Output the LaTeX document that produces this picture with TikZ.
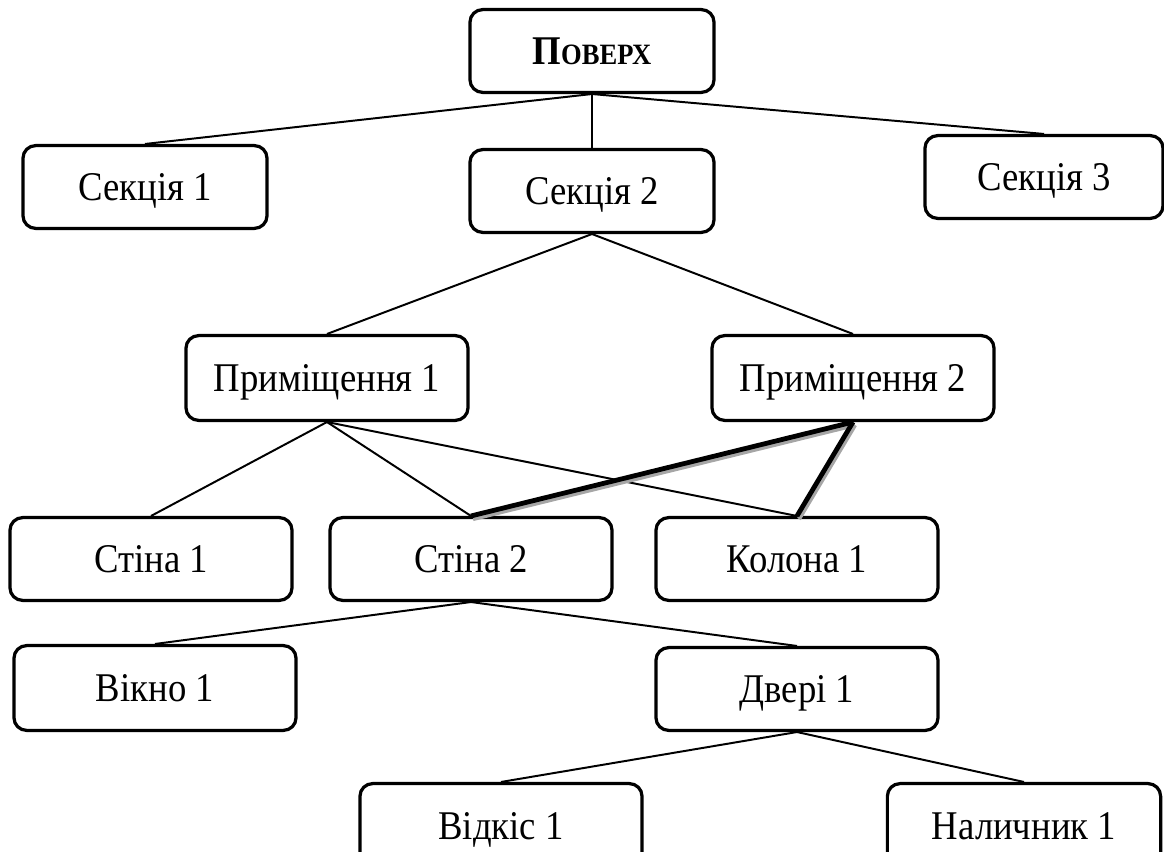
\documentclass[tikz,border=0pt]{standalone}
\usepackage{fontspec}
\setmainfont[FakeStretch=0.9]{Liberation Serif}
\usetikzlibrary{positioning}

\begin{document}
\begin{tikzpicture}[x=0.025cm, y=-0.025cm,
    box/.style={draw, line width=2.3pt, rounded corners=9pt, fill=white,
        minimum width=7.05cm, minimum height=2.07cm, inner sep=0pt,
        text height=19pt, text depth=0pt,
        font=\fontsize{29}{33}\selectfont},
    link/.style={line width=1.4pt},
    boldlink/.style={line width=3.4pt},
    shadelink/.style={line width=3pt, gray!70}]
    \useasboundingbox (0,0) rectangle (1164,852);
    \clip (0,0) rectangle (1164,852);

    % Top level
    \node[box, minimum width=6.1cm] (pover) at (592,51)
        {\bfseries П{\fontsize{21}{25}\selectfont ОВЕРХ}};

    % Sections
    \node[box, minimum width=6.1cm] (sec1) at (145,187) {Секція 1};
    \node[box, minimum width=6.1cm] (sec2) at (592,191) {Секція 2};
    \node[box, minimum width=5.95cm] (sec3) at (1044,177) {Секція 3};

    % Rooms
    \node[box, minimum height=2.12cm] (prym1) at (327,378) {Приміщення 1};
    \node[box, minimum height=2.12cm] (prym2) at (853,378) {Приміщення 2};

    % Walls and column
    \node[box] (stina1) at (151,559) {Стіна 1};
    \node[box] (stina2) at (471,559) {Стіна 2};
    \node[box] (kolona) at (797,559) {Колона 1};

    % Openings
    \node[box, minimum height=2.12cm] (vikno) at (155,688) {Вікно 1};
    \node[box] (dveri) at (797,689) {Двері 1};

    % Door parts
    \node[box, minimum height=2.12cm] (vidkis) at (501,826) {Відкіс 1};
    \node[box, minimum width=6.83cm, minimum height=2.12cm] (nalych) at (1024,826) {Наличник 1};

    % Plain links
    \draw[link] (pover.south) -- (sec1.north);
    \draw[link] (pover.south) -- (sec2.north);
    \draw[link] (pover.south) -- (sec3.north);
    \draw[link] (sec2.south) -- (prym1.north);
    \draw[link] (sec2.south) -- (prym2.north);
    \draw[link] (prym1.south) -- (stina1.north);
    \draw[link] (prym1.south) -- (stina2.north);
    \draw[link] (prym1.south) -- (kolona.north);
    \draw[link] (stina2.south) -- (vikno.north);
    \draw[link] (stina2.south) -- (dveri.north);
    \draw[link] (dveri.south) -- (vidkis.north);
    \draw[link] (dveri.south) -- (nalych.north);

    % Bold links with shadow
    \draw[shadelink] ([shift={(2,3)}]prym2.south) -- ([shift={(2,3)}]stina2.north);
    \draw[shadelink] ([shift={(2,3)}]prym2.south) -- ([shift={(2,3)}]kolona.north);
    \draw[boldlink] (prym2.south) -- (stina2.north);
    \draw[boldlink] (prym2.south) -- (kolona.north);
\end{tikzpicture}
\end{document}
